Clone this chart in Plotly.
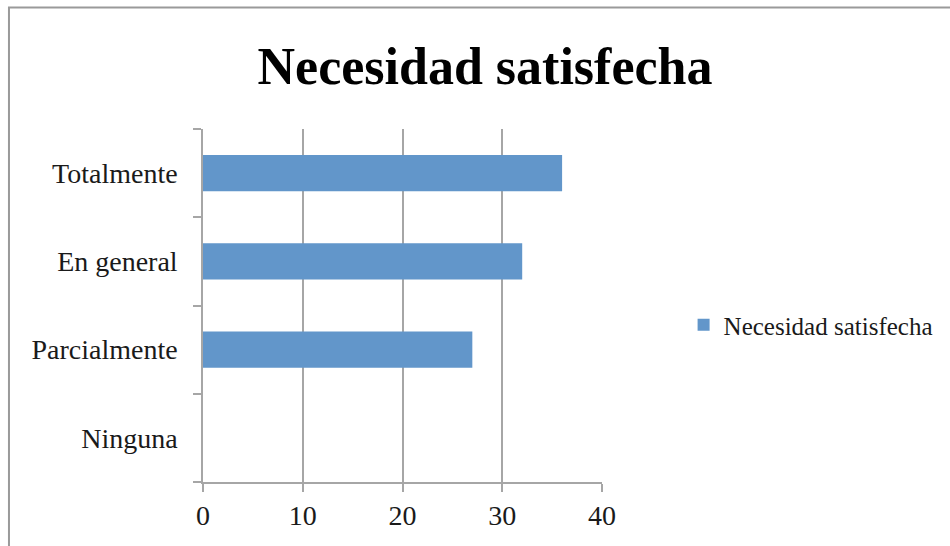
import plotly.graph_objects as go

# Survey answers: how fully the need was met
categories = ["Ninguna", "Parcialmente", "En general", "Totalmente"]
values = [0, 27, 32, 36]
series_name = "Necesidad satisfecha"
x_ticks = [0, 10, 20, 30, 40]

W, H = 950, 546
L, R, T, B = 203, 346, 129, 64
plot_w = W - L - R
plot_h = H - T - B


def px_x(px):
    return (px - L) / plot_w


def px_y(py):
    return (H - B - py) / plot_h


grid = "#a6a6a6"
font_family = "Liberation Serif"

fig = go.Figure(
    go.Bar(
        x=values,
        y=categories,
        orientation="h",
        name=series_name,
        marker=dict(color="#6296CA", line=dict(width=0)),
        showlegend=True,
    )
)

fig.update_layout(
    width=W,
    height=H,
    margin=dict(l=L, r=R, t=T, b=B),
    paper_bgcolor="white",
    plot_bgcolor="white",
    bargap=0.59,
    font=dict(family=font_family, size=25, color="#1a1a1a"),
    title=dict(
        text="<b>Necesidad satisfecha</b>",
        font=dict(family=font_family, size=52, color="black"),
        x=485 / W,
        xanchor="center",
        xref="container",
        y=1 - 66 / H,
        yanchor="middle",
        yref="container",
    ),
    legend=dict(
        x=px_x(686),
        y=px_y(325),
        xanchor="left",
        yanchor="middle",
        font=dict(family=font_family, size=25, color="#1a1a1a"),
        bgcolor="rgba(0,0,0,0)",
    ),
    xaxis=dict(
        range=[0, 40],
        tickvals=x_ticks,
        showgrid=True,
        gridcolor=grid,
        gridwidth=1.5,
        showline=True,
        linecolor=grid,
        linewidth=1.5,
        ticks="outside",
        ticklen=8,
        tickcolor=grid,
        tickwidth=1.5,
        zeroline=False,
        fixedrange=True,
        tickfont=dict(family=font_family, size=28, color="#1a1a1a"),
    ),
    yaxis=dict(
        categoryorder="array",
        categoryarray=categories,
        range=[-0.5, 3.5],
        showgrid=False,
        showline=True,
        linecolor=grid,
        linewidth=1.5,
        ticks="outside",
        tickson="boundaries",
        ticklen=8,
        tickcolor=grid,
        tickwidth=1.5,
        ticklabelstandoff=18,
        zeroline=False,
        fixedrange=True,
        tickfont=dict(family=font_family, size=28, color="#1a1a1a"),
    ),
    shapes=[
        dict(
            type="rect",
            xref="paper",
            yref="paper",
            x0=px_x(8),
            x1=px_x(980),
            y0=px_y(580),
            y1=px_y(7.5),
            line=dict(color="#9a9a9a", width=2),
            fillcolor="rgba(0,0,0,0)",
            layer="below",
        )
    ],
)

fig.write_html("out.html")
